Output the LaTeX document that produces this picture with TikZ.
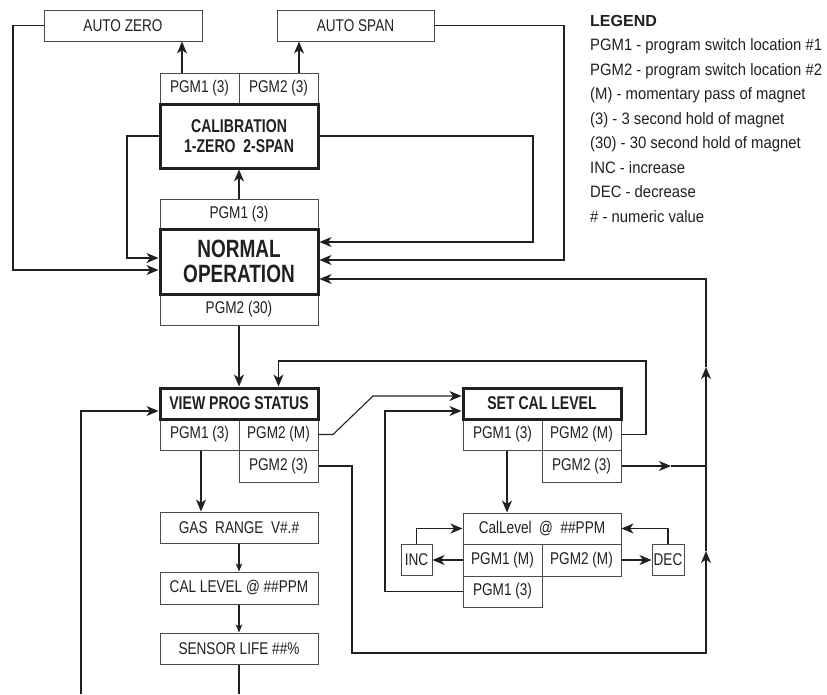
\documentclass[tikz,border=0pt]{standalone}
\usepackage{fontspec}
\setmainfont{Liberation Sans}
\newfontfamily\nfont[FakeStretch=0.8]{Liberation Sans}
\newfontfamily\lfont[FakeStretch=0.9]{Liberation Sans}
\newfontfamily\bfont[FakeStretch=0.76]{Liberation Sans Bold}
\usetikzlibrary{arrows.meta}
\definecolor{ink}{HTML}{231F20}
\definecolor{edge}{HTML}{4A4A4A}
\begin{document}
\begin{tikzpicture}[x=1pt,y=-1pt,
  bx/.style={draw=edge, line width=1pt, inner sep=0pt, text=ink, font=\nfont\fontsize{17}{19}\selectfont},
  tbx/.style={draw=ink, line width=3pt, inner sep=0pt, text=ink, align=center},
  ln/.style={draw=ink, line width=1.1pt},
  arr/.style={ln, -{Stealth[length=12pt,width=10pt,inset=3.5pt]}},
  sarr/.style={ln, -{Stealth[length=8pt,width=6.5pt,inset=2pt]}},
  lg/.style={anchor=base west, inner sep=0pt, text=ink, font=\lfont\fontsize{16.5}{18}\selectfont}
]
\useasboundingbox (0,0) rectangle (827,694);

% ---------- top boxes ----------
\node[bx, minimum width=158pt, minimum height=31pt] (az) at (123,25.5) {AUTO ZERO};
\node[bx, minimum width=157pt, minimum height=31pt] (as) at (355.5,25.5) {AUTO SPAN};
\node[bx, minimum width=79pt, minimum height=31pt] (cp1) at (199.5,88.5) {PGM1 (3)};
\node[bx, minimum width=79pt, minimum height=31pt] (cp2) at (278.5,88.5) {PGM2 (3)};
\node[tbx, minimum width=158pt, minimum height=64pt, font=\bfont\fontsize{18.5}{20.5}\selectfont] (cal) at (239,136) {CALIBRATION\\1-ZERO\ \ 2-SPAN};

\node[bx, minimum width=158pt, minimum height=30pt] (np1) at (239,214) {PGM1 (3)};
\node[bx, minimum width=158pt, minimum height=31pt] (np2) at (239,309.5) {PGM2 (30)};
\node[tbx, minimum width=158pt, minimum height=65pt, font=\bfont\fontsize{25}{25.5}\selectfont] (norm) at (239,261.5) {NORMAL\\OPERATION};

% ---------- view prog status ----------
\node[bx, minimum width=79pt, minimum height=31pt] (v1) at (199.5,434.5) {PGM1 (3)};
\node[bx, minimum width=79pt, minimum height=31pt] (v2) at (278.5,434.5) {PGM2 (M)};
\node[bx, minimum width=79pt, minimum height=32pt] (v3) at (278.5,466) {PGM2 (3)};
\node[tbx, minimum width=158pt, minimum height=31pt, font=\bfont\fontsize{18.5}{20}\selectfont] (vps) at (239,403.5) {VIEW PROG STATUS};
\node[bx, minimum width=158pt, minimum height=31pt] (gas) at (239,527.5) {GAS\ \ RANGE\ \ V\#.\#};
\node[bx, minimum width=158pt, minimum height=32pt] (cl) at (239,588) {CAL LEVEL @ \#\#PPM};
\node[bx, minimum width=158pt, minimum height=31pt] (sl) at (239,648.5) {SENSOR LIFE \#\#\%};

% ---------- set cal level ----------
\node[bx, minimum width=79pt, minimum height=31pt] (s1) at (502.5,434.5) {PGM1 (3)};
\node[bx, minimum width=79pt, minimum height=31pt] (s2) at (581.5,434.5) {PGM2 (M)};
\node[bx, minimum width=79pt, minimum height=32pt] (s3) at (581.5,466) {PGM2 (3)};
\node[tbx, minimum width=158pt, minimum height=31pt, font=\bfont\fontsize{18.5}{20}\selectfont] (scl) at (542,403.5) {SET CAL LEVEL};
\node[bx, minimum width=158pt, minimum height=31pt] (cll) at (542,528.5) {CalLevel\ \ @\ \ \#\#PPM};
\node[bx, minimum width=79pt, minimum height=32pt] (c1) at (502.5,560) {PGM1 (M)};
\node[bx, minimum width=79pt, minimum height=32pt] (c2) at (581.5,560) {PGM2 (M)};
\node[bx, minimum width=79pt, minimum height=31pt] (c3) at (502.5,591.5) {PGM1 (3)};
\node[bx, minimum width=31pt, minimum height=31pt] (inc) at (416.5,559.5) {INC};
\node[bx, minimum width=32pt, minimum height=31pt] (dec) at (668,559.5) {DEC};

% ---------- legend ----------
\node[lg, font=\bfseries\fontsize{16}{18}\selectfont] (lg0) at (590,26) {LEGEND};
\node[lg] (lg1) at (590,50.5) {PGM1 - program switch location \#1};
\node[lg] (lg2) at (590,75) {PGM2 - program switch location \#2};
\node[lg] (lg3) at (590,99.5) {(M) - momentary pass of magnet};
\node[lg] (lg4) at (590,124) {(3) - 3 second hold of magnet};
\node[lg] (lg5) at (590,148.5) {(30) - 30 second hold of magnet};
\node[lg] (lg6) at (590,173) {INC - increase};
\node[lg] (lg7) at (590,197.5) {DEC - decrease};
\node[lg] (lg8) at (590,222) {\# - numeric value};

% ---------- coordinates ----------
\coordinate (xA) at (182,0);
\coordinate (xB) at (299,0);
\coordinate (Lz) at (13,270);
\coordinate (Rs) at (564,260);
\coordinate (Lc) at (127,258);
\coordinate (Rc) at (533,242);
\coordinate (Rt) at (646,361);
\coordinate (d1) at (333,434.5);
\coordinate (d2) at (373,396);
\coordinate (Lk) at (385,411);
\coordinate (B1) at (352,653);
\coordinate (B2) at (706,653);
\coordinate (m1) at (706,551);
\coordinate (m2) at (706,367);
\coordinate (T) at (706,279);
\coordinate (m3) at (671,466);
\coordinate (J) at (706,466);
\coordinate (xV) at (201,0);
\coordinate (xS) at (507,0);
\coordinate (E1) at (239,694);
\coordinate (E2) at (81,694);
\coordinate (L2) at (81,411);

% ---------- connectors ----------
\draw[arr] (cp1.north -| xA) -- (az.south -| xA);
\draw[arr] (cp2.north -| xB) -- (as.south -| xB);
\draw[arr] (az.west) -| (Lz) -- (norm.west |- Lz);
\draw[arr] (as.east) -| (Rs) -- (norm.east |- Rs);
\draw[arr] (cal.west) -| (Lc) -- (norm.west |- Lc);
\draw[arr] (cal.east) -| (Rc) -- (norm.east |- Rc);
\draw[arr] (np1.north) -- (cal.south);
\draw[arr] (np2.south) -- (vps.north);

\draw[arr] (s2.east) -| (Rt) -| (vps.north -| v2.north);
\draw[arr] (v2.east) -- (d1) -- (d2) -- (scl.west |- d2);
\draw[arr] (c3.west) -| (Lk) -- (scl.west |- Lk);

\draw[arr] (v3.east) -| (B1) -- (B2) -- (m1);
\draw[arr] (m1) -- (m2);
\draw[arr] (m2) -- (T) -- (norm.east |- T);
\draw[arr] (s3.east) -- (m3);
\draw[ln] (m3) -- (J);

\draw[arr] (v1.south -| xV) -- (gas.north -| xV);
\draw[sarr] (gas.south) -- (cl.north);
\draw[sarr] (cl.south) -- (sl.north);
\draw[ln] (sl.south) -- (E1);
\draw[arr] (E2) -- (L2) -- (vps.west |- L2);

\draw[arr] (s1.south -| xS) -- (cll.north -| xS);
\draw[arr] (c1.west) -- (inc.east |- c1.west);
\draw[arr] (inc.north) |- (cll.west);
\draw[arr] (c2.east) -- (dec.west |- c2.east);
\draw[arr] (dec.north) |- (cll.east);
\end{tikzpicture}
\end{document}
